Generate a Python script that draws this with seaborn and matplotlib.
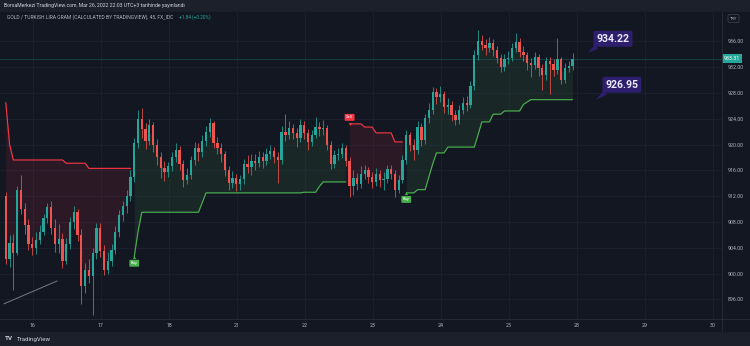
import numpy as np
import pandas as pd
import matplotlib
matplotlib.use("Agg")
import matplotlib.pyplot as plt
import seaborn as sns
from matplotlib.patches import Rectangle
from matplotlib.lines import Line2D

# ---------------- data (45m candles, GOLD / TRY gram) ----------------
opens = [
    912.0, 902.3, 904.8, 903.2, 913.0, 910.0, 907.5, 904.5, 904.0, 905.2,
    906.5, 908.6, 910.3, 907.0, 904.5, 905.3, 902.0, 904.6, 908.0, 909.5,
    906.0, 898.0, 900.6, 899.6, 903.2, 907.0, 903.5, 900.5, 902.0, 903.6,
    906.5, 909.0, 910.4, 912.0, 915.0, 920.2, 924.0, 922.4, 920.5, 923.0,
    920.0, 918.0, 916.4, 915.8, 916.6, 918.0, 919.2, 917.0, 914.5, 915.2,
    917.6, 919.5, 918.8, 920.5, 922.0, 923.3, 920.2, 919.5, 918.5, 916.0,
    914.0, 914.8, 913.8, 914.6, 917.0, 916.5, 917.5, 917.2, 918.0, 917.5,
    918.5, 919.0, 918.0, 917.6, 922.0, 921.4, 922.5, 921.8, 921.0, 923.0,
    921.8, 920.4, 921.5, 922.7, 922.4, 922.6, 920.0, 917.0, 918.4, 918.6,
    919.5, 917.5, 913.5, 914.8, 913.8, 915.5, 916.0, 915.0, 914.2, 915.5,
    914.5, 914.6, 916.2, 915.5, 913.0, 914.5, 917.6, 921.5, 920.0, 919.2,
    922.7, 920.7, 924.1, 925.4, 928.1, 927.4, 927.8, 925.8, 926.2, 924.6,
    923.8, 925.4, 926.4, 926.1, 929.0, 933.9, 936.0, 935.5, 935.0, 935.8,
    934.6, 933.4, 932.0, 933.2, 933.4, 935.0, 935.9, 934.3, 933.8, 932.6,
    932.3, 933.5, 931.9, 930.8, 932.9, 932.5, 931.5, 933.2, 930.0, 931.9,
    932.2]
highs = [
    912.6, 906.0, 906.2, 913.6, 915.3, 911.0, 908.4, 905.6, 906.4, 907.5,
    909.3, 911.0, 911.2, 908.5, 907.6, 906.3, 905.5, 908.8, 910.4, 910.0,
    906.9, 901.7, 902.3, 904.0, 907.8, 907.9, 904.4, 903.3, 904.5, 907.4,
    909.9, 911.3, 913.0, 916.0, 921.0, 925.4, 925.6, 923.3, 923.9, 923.5,
    920.8, 918.9, 917.5, 917.3, 918.9, 920.2, 919.7, 917.6, 916.3, 918.2,
    920.4, 920.2, 921.4, 922.9, 924.1, 923.6, 921.1, 920.2, 919.0, 916.7,
    915.9, 915.5, 915.3, 917.8, 918.3, 918.5, 918.6, 919.0, 918.9, 919.4,
    920.0, 919.6, 918.8, 922.8, 924.8, 923.6, 923.2, 922.5, 924.0, 923.6,
    922.4, 922.3, 924.3, 923.5, 923.8, 923.0, 920.5, 919.2, 919.5, 920.2,
    920.0, 918.0, 916.0, 915.6, 916.6, 916.9, 916.5, 915.8, 916.4, 916.0,
    915.7, 916.9, 916.8, 916.0, 915.2, 918.3, 922.2, 922.0, 920.8, 923.6,
    923.4, 924.8, 926.4, 928.9, 928.8, 929.0, 928.3, 927.2, 926.8, 925.4,
    926.2, 927.3, 927.5, 929.8, 934.6, 937.7, 936.9, 936.4, 936.6, 936.3,
    935.2, 934.0, 934.1, 934.5, 935.8, 937.3, 936.5, 935.2, 934.4, 933.4,
    934.3, 934.0, 932.5, 933.6, 933.6, 933.3, 936.5, 933.6, 932.6, 933.0,
    934.22]
lows = [
    901.5, 901.0, 897.4, 902.8, 909.2, 906.2, 903.6, 902.9, 903.1, 904.6,
    905.9, 907.8, 906.1, 903.4, 903.2, 900.8, 901.4, 903.8, 906.9, 905.1,
    895.2, 897.0, 898.6, 893.6, 902.2, 902.6, 899.8, 899.9, 901.2, 903.0,
    905.6, 908.2, 909.4, 911.2, 914.2, 919.4, 921.0, 919.3, 919.9, 918.9,
    916.8, 914.8, 914.3, 914.9, 915.9, 917.3, 916.1, 913.4, 913.8, 914.6,
    916.9, 917.4, 918.0, 919.7, 921.2, 919.4, 918.6, 917.3, 915.1, 912.9,
    913.2, 912.8, 913.0, 913.9, 915.6, 915.3, 916.1, 916.5, 916.3, 916.8,
    917.7, 917.1, 914.0, 917.0, 920.6, 920.8, 920.9, 919.6, 920.4, 920.9,
    919.2, 919.8, 921.0, 921.3, 921.5, 919.1, 916.2, 916.4, 917.6, 917.9,
    916.6, 911.9, 912.1, 912.9, 913.2, 914.6, 914.0, 913.3, 913.6, 913.4,
    913.0, 914.0, 914.6, 911.9, 912.5, 914.0, 917.0, 919.0, 917.6, 918.6,
    919.8, 920.1, 923.4, 924.8, 926.3, 926.6, 924.9, 924.8, 923.7, 923.0,
    923.2, 924.8, 925.2, 925.6, 928.4, 933.1, 934.6, 933.8, 934.3, 933.7,
    932.6, 931.2, 931.4, 932.5, 932.9, 934.4, 933.6, 932.9, 931.6, 930.4,
    931.7, 930.6, 928.4, 930.0, 927.8, 930.6, 931.0, 929.4, 929.6, 931.2,
    931.6]
closes = [
    902.3, 904.8, 903.2, 913.0, 910.0, 907.5, 904.5, 904.0, 905.2, 906.5,
    908.6, 910.3, 907.0, 904.5, 905.3, 902.0, 904.6, 908.0, 909.5, 906.0,
    898.0, 900.6, 899.6, 903.2, 907.0, 903.5, 900.5, 902.0, 903.6, 906.5,
    909.0, 910.4, 912.0, 915.0, 920.2, 924.0, 922.4, 920.5, 923.0, 920.0,
    918.0, 916.4, 915.8, 916.6, 918.0, 919.2, 917.0, 914.5, 915.2, 917.6,
    919.5, 918.8, 920.5, 922.0, 923.3, 920.2, 919.5, 918.5, 916.0, 914.0,
    914.8, 913.8, 914.6, 917.0, 916.5, 917.5, 917.2, 918.0, 917.5, 918.5,
    919.0, 918.0, 917.6, 922.0, 921.4, 922.5, 921.8, 921.0, 923.0, 921.8,
    920.4, 921.5, 922.7, 922.4, 922.6, 920.0, 917.0, 918.4, 918.6, 919.5,
    917.5, 913.5, 914.8, 913.8, 915.5, 916.0, 915.0, 914.2, 915.5, 914.5,
    914.6, 916.2, 915.5, 913.0, 914.5, 917.6, 921.5, 920.0, 919.2, 922.7,
    920.7, 924.1, 925.4, 928.1, 927.4, 927.8, 925.8, 926.2, 924.6, 923.8,
    925.4, 926.4, 926.1, 929.0, 933.9, 936.0, 935.5, 935.0, 935.8, 934.6,
    933.4, 932.0, 933.2, 933.4, 935.0, 935.9, 934.3, 933.8, 932.6, 932.3,
    933.5, 931.9, 930.8, 932.9, 932.5, 931.5, 933.2, 930.0, 931.9, 932.2,
    933.31]

# SuperTrend segments (in order): down, up, down, up
st_down_1 = [926.5, 920.0] + [917.6] * 14 + [917.1] * 6 + [916.3] * 12
st_up_1 = ([902.6, 906.5] + [909.5] * 16 + [911.0] + [912.5] * 26
           + [912.6] * 4 + [913.5] + [914.2] * 7)
st_down_2 = [923.2] * 4 + [922.7] * 3 + [921.8] * 5 + [920.4] * 3
st_up_2 = ([912.5] * 3 + [913.0] * 3 + [915.0, 917.0] + [918.7] * 3
           + [919.6] * 8 + [921.5] + [923.5] * 3 + [924.7] * 3
           + [925.2] * 5 + [926.2, 926.6] + [926.95] * 12)
st_segments = [("down", st_down_1), ("up", st_up_1),
               ("down", st_down_2), ("up", st_up_2)]

day_labels = ["16", "17", "18", "21", "22", "23", "24", "25", "28", "29", "30"]
bars_per_day = 18
first_day_bar = 7.2
price_ticks = [896, 900, 904, 908, 912, 916, 920, 924, 928, 932, 936]

last_price = 933.31
note_high = 934.22
note_st = 926.95
change_text = "+1.84 (+0.20%)"
trend_x = [-0.5, 13.6]
trend_y = [895.3, 898.85]

# ---------------- style ----------------
sns.set_theme(style="dark")
plt.rcParams['font.family'] = ['Roboto', 'DejaVu Sans']

BG = '#131722'
BAND = '#1c202b'
GRID = '#1c2030'
UP = '#26a69a'
DOWN = '#ef5350'
ST_UP = '#4caf50'
ST_DN = '#f23645'
TXT = '#b2b5be'
NOTE = '#2e1f6e'

W, H = 750, 346
def fx(px):
    return px / W
def fy(py):
    return 1 - py / H

fig = plt.figure(figsize=(7.5, 3.46), dpi=100, facecolor=BAND)
fig.patches.append(Rectangle((0, fy(331)), 1, fy(12) - fy(331),
                             transform=fig.transFigure, color=BG, zorder=-10))

ax = fig.add_axes([0, fy(319), fx(722), fy(12) - fy(319)])
ax.set_facecolor(BG)
for s in ax.spines.values():
    s.set_visible(False)

df = pd.DataFrame({"open": opens, "high": highs, "low": lows, "close": closes})
df["bar"] = np.arange(len(df))
df["up"] = df["close"] >= df["open"]
df["mid"] = (df["open"] + df["close"]) / 2

# SuperTrend fills + lines
start = 0
for kind, vals in st_segments:
    n = len(vals)
    xs = df["bar"].values[start:start + n]
    mids = df["mid"].values[start:start + n]
    col = ST_UP if kind == "up" else ST_DN
    ax.fill_between(xs, vals, mids, color=col, alpha=0.11, lw=0, zorder=1)
    sns.lineplot(x=xs, y=vals, ax=ax, color=col, linewidth=0.85,
                 estimator=None, legend=False, zorder=5)
    start += n

# candles
cols = np.where(df["up"], UP, DOWN)
ax.vlines(df["bar"], df["low"], df["high"], colors=cols, lw=0.55, zorder=3)
body_lo = np.minimum(df["open"], df["close"])
body_h = np.maximum(np.abs(df["close"] - df["open"]), 0.08)
ax.bar(df["bar"], body_h, bottom=body_lo, width=0.6, color=cols,
       linewidth=0, zorder=4)

# Buy / Sell signals at trend flips
start = 0
for k, (kind, vals) in enumerate(st_segments):
    if k > 0:
        b = start
        if kind == "up":
            ax.annotate("Buy", xy=(b, vals[0]), xytext=(0, -6.5),
                        textcoords="offset pixels", ha="center", va="center",
                        fontsize=3.0, color="white", zorder=8,
                        bbox=dict(boxstyle="round,pad=0.35,rounding_size=0.2",
                                  fc=ST_UP, ec="none"))
            ax.plot([b], [vals[0]], marker="^", ms=2.2, color=ST_UP,
                    mec="none", zorder=8)
        else:
            ax.annotate("Sell", xy=(b, vals[0]), xytext=(0, 6.5),
                        textcoords="offset pixels", ha="center", va="center",
                        fontsize=3.0, color="white", zorder=8,
                        bbox=dict(boxstyle="round,pad=0.35,rounding_size=0.2",
                                  fc=ST_DN, ec="none"))
            ax.plot([b], [vals[0]], marker="v", ms=2.2, color=ST_DN,
                    mec="none", zorder=8)
    start += len(vals)

# trend line drawing
ax.plot(trend_x, trend_y, color='#787b86', lw=0.7, zorder=6)

# current price line
ax.axhline(last_price, color=UP, alpha=0.3, lw=0.6, zorder=2)

# price notes
n_bars = len(df)
for val, off in [(note_high, (25, 14)), (note_st, (26, 15))]:
    tip_bar = n_bars + 3.1 if val == note_high else n_bars + 5.2
    ax.annotate(f"{val:.2f}", xy=(tip_bar, val), xytext=off,
                textcoords="offset pixels", ha="center", va="center",
                fontsize=7.6, fontweight="bold", color="#ecebff", zorder=9,
                bbox=dict(boxstyle="round,pad=0.28,rounding_size=0.15",
                          fc=NOTE, ec="none"),
                arrowprops=dict(arrowstyle="wedge,tail_width=0.5,shrink_factor=0.5",
                                fc=NOTE, ec="none", relpos=(0.12, 0.0),
                                shrinkA=0, shrinkB=0),
                annotation_clip=False)

# axes ranges / ticks
ax.set_xlim(-1.535, 189.57)
ax.set_ylim(892.95, 940.54)
ax.set_xticks([first_day_bar + bars_per_day * k for k in range(len(day_labels))])
ax.set_xticklabels(day_labels)
ax.yaxis.tick_right()
ax.set_yticks(price_ticks)
ax.set_yticklabels([f"{v:.2f}" for v in price_ticks])
ax.tick_params(axis='x', labelsize=3.8, length=0, pad=3.0, labelcolor=TXT)
ax.tick_params(axis='y', labelsize=3.8, length=0, pad=4.0, labelcolor=TXT)
ax.grid(True, color=GRID, lw=0.6)
ax.set_axisbelow(True)

# last price label on the scale
ax.annotate(f"{last_price:.2f}", xy=(1.0, last_price),
            xycoords=("axes fraction", "data"), xytext=(10, 0),
            textcoords="offset pixels", ha="center", va="center",
            fontsize=3.8, color="white", zorder=10,
            bbox=dict(boxstyle="square,pad=0.35", fc=UP, ec="none"),
            annotation_clip=False)

# separators
fig.add_artist(Line2D([0, 1], [fy(319), fy(319)], transform=fig.transFigure,
                      color='#2a2e39', lw=0.6))
fig.add_artist(Line2D([fx(722), fx(722)], [fy(12), fy(331)],
                      transform=fig.transFigure, color='#2a2e39', lw=0.6))

# header texts
fig.text(fx(4), fy(6), "BorsaMerkezi TradingView.com, Mar 26, 2022 22:03 UTC+3 tarihinde yayınlandı",
         fontsize=3.7, color='#d1d4dc', va='center', ha='left')
fig.text(fx(7), fy(17.5), "GOLD / TURKISH LIRA GRAM (CALCULATED BY TRADINGVIEW), 45, FX_IDC",
         fontsize=3.6, color=TXT, va='center', ha='left')
fig.text(fx(179), fy(17.5), change_text, fontsize=3.4, color=UP,
         va='center', ha='left')
fig.text(fx(733.5), fy(18.5), "TRY", fontsize=3.0, color=TXT, va='center',
         ha='center', zorder=10,
         bbox=dict(boxstyle="round,pad=0.45,rounding_size=0.3", fc=BG,
                   ec='#434651', lw=0.5))

# footer
fig.text(fx(5), fy(339), "TV", fontsize=4.6, fontweight='bold',
         color='#d1d4dc', va='center', ha='left')
fig.text(fx(17), fy(339), "TradingView", fontsize=4.4, color='#d1d4dc',
         va='center', ha='left')

fig.savefig("out.png", dpi=100, facecolor=fig.get_facecolor())
